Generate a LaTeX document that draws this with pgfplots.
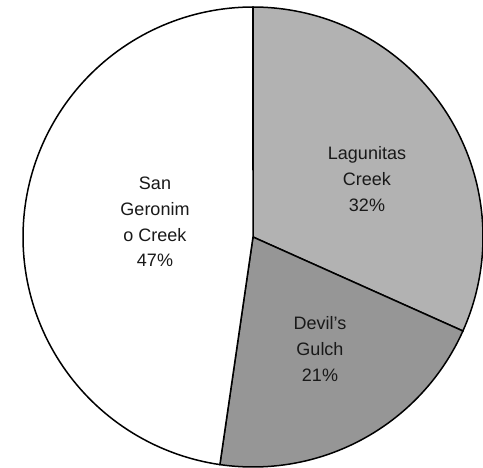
\documentclass[border=0pt]{standalone}
\usepackage{pgfplots}
\usepackage{pgfplotstable}
\pgfplotsset{compat=1.18}
\usepackage{fontspec}
\setmainfont{Liberation Sans}
\definecolor{lag}{RGB}{178,178,178}
\definecolor{dev}{RGB}{150,150,150}

\pgfplotstableread{
label share
Lagunitas 31.7
Devils 20.6
SanGeronimo 47.7
}\piedata

\tikzset{lbl/.style={font=\fontsize{18bp}{25.7bp}\selectfont, align=center, text=black!90, inner sep=0pt}}

\begin{document}
\begin{tikzpicture}
\pgfplotstablegetelem{0}{share}\of\piedata\let\shA\pgfplotsretval
\pgfplotstablegetelem{1}{share}\of\piedata\let\shB\pgfplotsretval
\pgfplotstablegetelem{2}{share}\of\piedata\let\shC\pgfplotsretval
\pgfmathsetmacro\angA{3.6*\shA}
\pgfmathsetmacro\angB{\angA+3.6*\shB}
\pgfmathsetmacro\angC{\angB+3.6*\shC}
\useasboundingbox (0,0) rectangle (483bp,468bp);
\begin{axis}[
  at={(0,0)}, anchor=origin,
  x=1bp, y=1bp,
  xmin=0, xmax=483, ymin=0, ymax=468,
  hide axis, clip=false,
]
\addplot[fill=lag, draw=black, line width=1.5bp, domain=0:\angA, samples=90, variable=\t]
  ({253+230*sin(\t)},{231+230*cos(\t)}) -- (axis cs:253,231) -- cycle;
\addplot[fill=dev, draw=black, line width=1.5bp, domain=\angA:\angB, samples=60, variable=\t]
  ({253+230*sin(\t)},{231+230*cos(\t)}) -- (axis cs:253,231) -- cycle;
\addplot[fill=white, draw=black, line width=1.5bp, domain=\angB:\angC, samples=120, variable=\t]
  ({253+230*sin(\t)},{231+230*cos(\t)}) -- (axis cs:253,231) -- cycle;
\node[lbl] at (axis cs:367,289) {Lagunitas\\Creek\\32\%};
\node[lbl] at (axis cs:320,119) {Devil's\\Gulch\\21\%};
\node[lbl] at (axis cs:155,246) {San\\Geronim\\o Creek\\47\%};
\end{axis}
\end{tikzpicture}
\end{document}
